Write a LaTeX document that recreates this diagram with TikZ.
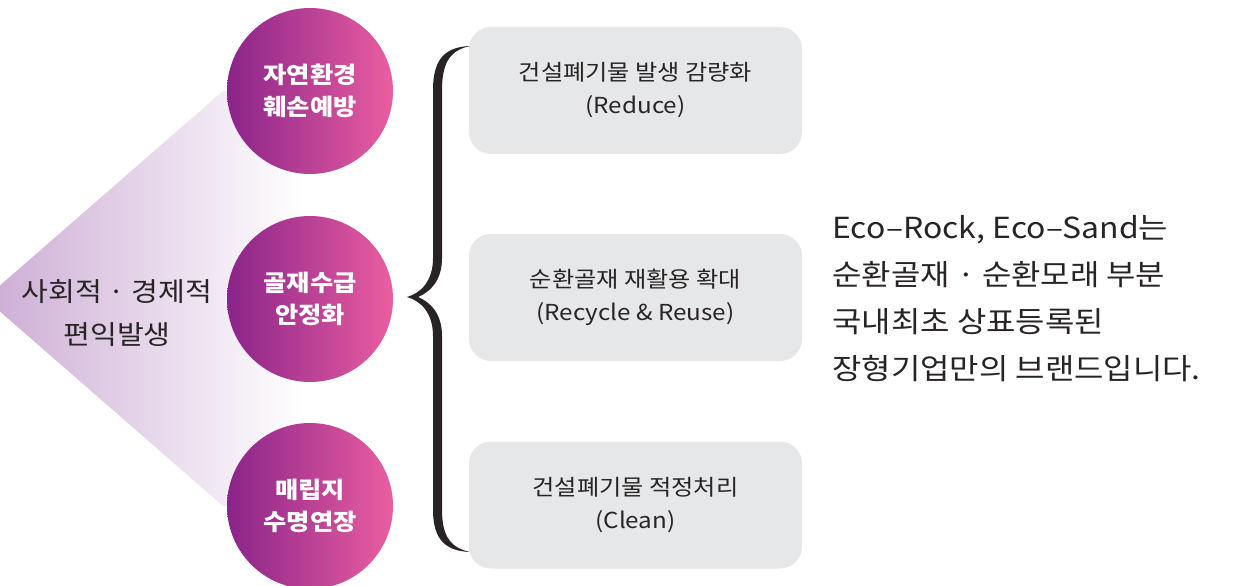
\documentclass[tikz,border=0pt]{standalone}
\usepackage{fontspec}
\setmainfont{Noto Sans CJK KR}[FakeStretch=1.1]
\definecolor{fanc}{RGB}{204,172,212}
\definecolor{cleft}{RGB}{138,36,138}
\definecolor{cmid}{RGB}{180,98,166}
\definecolor{cright}{RGB}{234,94,160}
\definecolor{boxgray}{RGB}{230,231,232}
\definecolor{txt}{RGB}{40,36,38}
\pgfdeclarehorizontalshading{fanshade}{100bp}{color(0bp)=(fanc); color(25bp)=(fanc); color(71bp)=(white); color(100bp)=(white)}
\tikzset{
  circ/.style={circle, minimum size=166pt, inner sep=0pt, left color=cleft, middle color=cmid, right color=cright,
    text=white, align=center, font=\bfseries\fontsize{23}{32}\selectfont},
  gbox/.style={rectangle, rounded corners=22pt, minimum width=333pt, minimum height=127pt, fill=boxgray,
    text=txt, align=center, font=\fontsize{22}{33}\selectfont},
}
\begin{document}
\begin{tikzpicture}[x=1pt,y=-1pt]
\useasboundingbox (0,0) rectangle (1242,586);
\clip (0,0) rectangle (1242,586);
% fan
\shade[shading=fanshade] (-15,298.5) -- (223,91) -- (330,91) -- (330,506) -- (223,506) -- cycle;
% circles
\node[circ] (c1) at (310,91) {자연환경\\훼손예방};
\node[circ] (c2) at (310,299) {골재수급\\안정화};
\node[circ] (c3) at (310,506) {매립지\\수명연장};
% left text
\node[text=txt, align=center, font=\fontsize{26.5}{43}\selectfont] (lt) at (117,313) {사회적 · 경제적\\편익발생};
% boxes
\node[gbox] (b1) at (635.5,90.5) {건설폐기물 발생 감량화\\(Reduce)};
\node[gbox] (b2) at (635.5,297.5) {순환골재 재활용 확대\\(Recycle \& Reuse)};
\node[gbox] (b3) at (635.5,505) {건설폐기물 적정처리\\(Clean)};
% brace
\fill[txt] (470,46) .. controls (446,47) and (433,58) .. (433,90) -- (433,258)
  .. controls (433,281) and (421,293) .. (407,297)
  .. controls (421,301) and (433,313) .. (433,336) -- (433,510)
  .. controls (433,540) and (446,551) .. (470,552)
  .. controls (452,548) and (442,538) .. (442,510) -- (442,336)
  .. controls (442,313) and (430,302) .. (418,297)
  .. controls (430,292) and (442,281) .. (442,258) -- (442,90)
  .. controls (442,60) and (452,50) .. (470,46) -- cycle;
% right text
\node[text=txt, anchor=west, align=left, font=\fontsize{29}{47}\selectfont] (rt) at (829,299)
  {Eco–Rock, Eco–Sand는\\순환골재 · 순환모래 부분\\국내최초 상표등록된\\장형기업만의 브랜드입니다.};
\end{tikzpicture}
\end{document}
